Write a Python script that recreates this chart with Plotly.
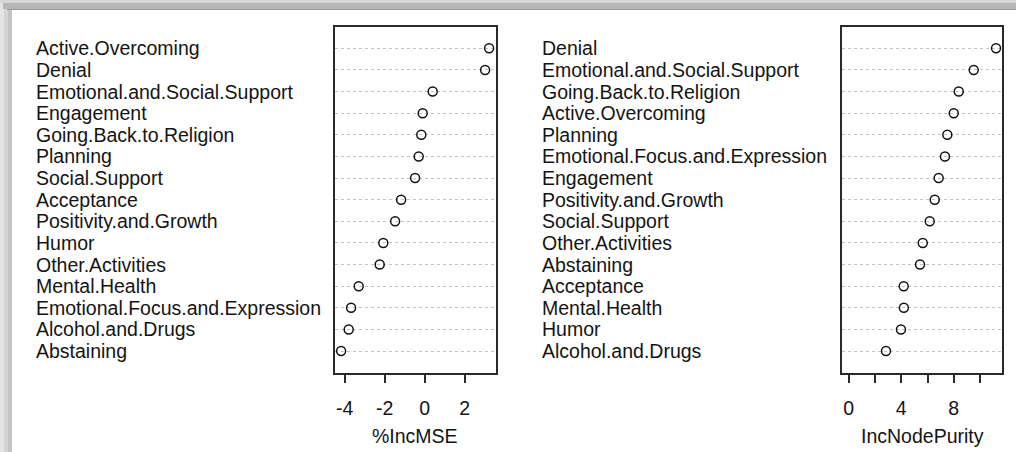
import plotly.graph_objects as go

# Variable importance from a random forest, sorted within each measure
mse_labels = [
    "Active.Overcoming", "Denial", "Emotional.and.Social.Support", "Engagement",
    "Going.Back.to.Religion", "Planning", "Social.Support", "Acceptance",
    "Positivity.and.Growth", "Humor", "Other.Activities", "Mental.Health",
    "Emotional.Focus.and.Expression", "Alcohol.and.Drugs", "Abstaining",
]
mse_values = [3.22, 3.02, 0.40, -0.10, -0.17, -0.30, -0.48, -1.18,
              -1.48, -2.07, -2.25, -3.30, -3.68, -3.80, -4.18]

purity_labels = [
    "Denial", "Emotional.and.Social.Support", "Going.Back.to.Religion",
    "Active.Overcoming", "Planning", "Emotional.Focus.and.Expression",
    "Engagement", "Positivity.and.Growth", "Social.Support", "Other.Activities",
    "Abstaining", "Acceptance", "Mental.Health", "Humor", "Alcohol.and.Drugs",
]
purity_values = [11.22, 9.52, 8.38, 8.00, 7.51, 7.33, 6.85, 6.55,
                 6.17, 5.64, 5.43, 4.19, 4.20, 3.98, 2.84]

mse_ticks = [-4, -2, 0, 2]
mse_ticktext = ["-4", "-2", "0", "2"]
purity_ticks = [0, 2, 4, 6, 8, 10]
purity_ticktext = ["0", "", "4", "", "8", ""]

W, H = 1016, 452
FONT = "Liberation Sans, Arial, sans-serif"
TXT = "#141414"
FS = 19.5

n = len(mse_labels)
rows = list(range(n, 0, -1))  # top row first

fig = go.Figure()
fig.add_trace(go.Scatter(
    x=mse_values, y=rows, mode="markers", xaxis="x", yaxis="y",
    marker=dict(symbol="circle-open", size=9, color="#111", line=dict(width=1.5)),
    hoverinfo="skip", showlegend=False))
fig.add_trace(go.Scatter(
    x=purity_values, y=rows, mode="markers", xaxis="x2", yaxis="y2",
    marker=dict(symbol="circle-open", size=9, color="#111", line=dict(width=1.5)),
    hoverinfo="skip", showlegend=False))

ydom = [(H - 372.7) / H, (H - 26.7) / H]
axis_common = dict(showline=True, linecolor="#2a2a2a", linewidth=1.5, mirror=True,
                   zeroline=False, showgrid=False, ticks="outside", ticklen=9,
                   tickwidth=1.5, tickcolor="#2a2a2a", ticklabelstandoff=8,
                   tickfont=dict(family=FONT, size=FS, color=TXT))
yaxis_common = dict(range=[0, 16], showline=True, linecolor="#2a2a2a", linewidth=1.5,
                    mirror=True, zeroline=False, showgrid=True, gridcolor="#c4c4c4",
                    griddash="dot", gridwidth=1, tickvals=rows, showticklabels=False,
                    ticks="", domain=ydom)

fig.update_layout(
    width=W, height=H, margin=dict(l=0, r=0, t=0, b=0),
    paper_bgcolor="white", plot_bgcolor="white",
    xaxis=dict(domain=[334.7 / W, 495.7 / W], range=[-4.5, 3.55],
               tickvals=mse_ticks, ticktext=mse_ticktext, anchor="y", **axis_common),
    yaxis=dict(anchor="x", **yaxis_common),
    xaxis2=dict(domain=[842.3 / W, 1001.7 / W], range=[-0.487, 11.65],
                tickvals=purity_ticks, ticktext=purity_ticktext, anchor="y2",
                **axis_common),
    yaxis2=dict(anchor="x2", **yaxis_common),
)

annotations = []
for lab, r in zip(mse_labels, rows):
    annotations.append(dict(text=lab, x=34 / W, xref="paper", y=r, yref="y",
                            xanchor="left", yanchor="middle", showarrow=False,
                            font=dict(family=FONT, size=FS, color=TXT)))
for lab, r in zip(purity_labels, rows):
    annotations.append(dict(text=lab, x=540 / W, xref="paper", y=r, yref="y2",
                            xanchor="left", yanchor="middle", showarrow=False,
                            font=dict(family=FONT, size=FS, color=TXT)))
annotations.append(dict(text="%IncMSE", x=415 / W, xref="paper", y=(H - 436) / H,
                        yref="paper", xanchor="center", yanchor="middle",
                        showarrow=False, font=dict(family=FONT, size=FS, color=TXT)))
annotations.append(dict(text="IncNodePurity", x=922 / W, xref="paper", y=(H - 436) / H,
                        yref="paper", xanchor="center", yanchor="middle",
                        showarrow=False, font=dict(family=FONT, size=FS, color=TXT)))
fig.update_layout(annotations=annotations)

# Grey window frame along the top and left edges
def px_rect(x0, y0, x1, y1, color):
    return dict(type="rect", xref="paper", yref="paper", layer="below",
                x0=x0 / W, x1=x1 / W, y0=1 - y1 / H, y1=1 - y0 / H,
                line=dict(width=0), fillcolor=color)

shapes = [
    px_rect(0, 0, 4, H, "#e4e4e4"),
    px_rect(4, 0, 8, H, "#d4d4d4"),
    px_rect(8, 10, 12, H, "#c4c4c4"),
    px_rect(0, 0, W, 3, "#d6d6d6"),
    px_rect(3, 3, W, 9, "#b6b6b6"),
    px_rect(7, 9, W, 10, "#9a9a9a"),
]
fig.update_layout(shapes=shapes)

fig.write_html("out.html")
